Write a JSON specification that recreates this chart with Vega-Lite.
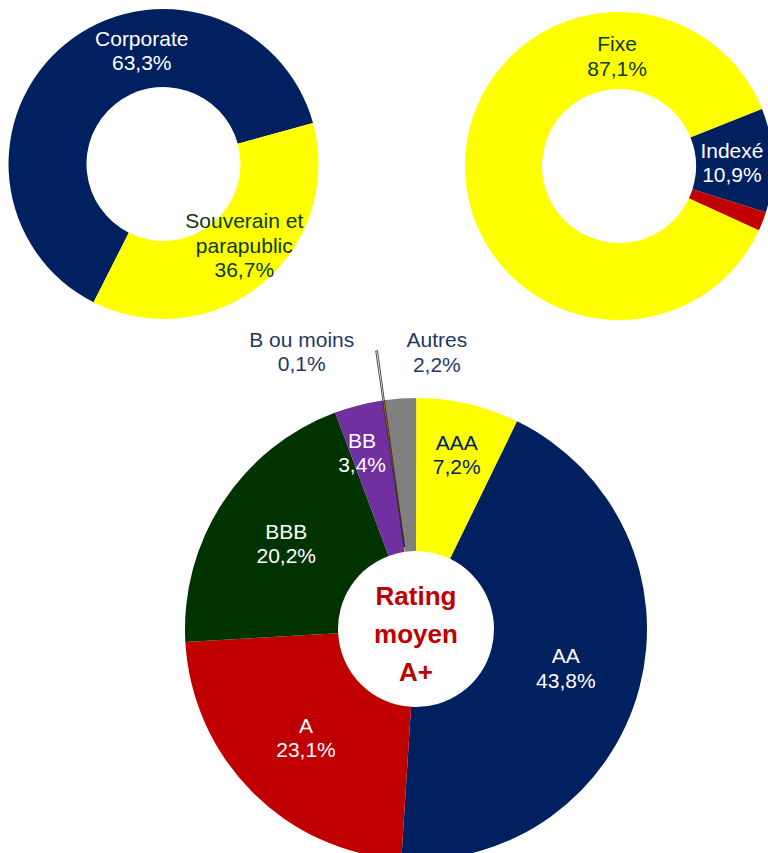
{
  "$schema": "https://vega.github.io/schema/vega-lite/v6.json",
  "width": 768,
  "height": 853,
  "autosize": {"type": "none"},
  "padding": 0,
  "background": "white",
  "config": {
    "view": {"stroke": null},
    "text": {"font": "Liberation Sans", "fontSize": 21, "lineBreak": "\n", "lineHeight": 24.5}
  },
  "datasets": {
    "parts": [
      {"chart": "secteur", "cat": "Corporate", "pct": 63.3, "label": "Corporate\n63,3%"},
      {"chart": "secteur", "cat": "Souverain et parapublic", "pct": 36.7, "label": "Souverain et\nparapublic\n36,7%"},
      {"chart": "taux", "cat": "Fixe", "pct": 87.1, "label": "Fixe\n87,1%"},
      {"chart": "taux", "cat": "Indexé", "pct": 10.9, "label": "Indexé\n10,9%"},
      {"chart": "taux", "cat": "Variable", "pct": 2.0, "label": ""},
      {"chart": "rating", "cat": "AAA", "pct": 7.2, "label": "AAA\n7,2%"},
      {"chart": "rating", "cat": "AA", "pct": 43.8, "label": "AA\n43,8%"},
      {"chart": "rating", "cat": "A", "pct": 23.1, "label": "A\n23,1%"},
      {"chart": "rating", "cat": "BBB", "pct": 20.2, "label": "BBB\n20,2%"},
      {"chart": "rating", "cat": "BB", "pct": 3.4, "label": "BB\n3,4%"},
      {"chart": "rating", "cat": "B ou moins", "pct": 0.1, "label": "B ou moins\n0,1%"},
      {"chart": "rating", "cat": "Autres", "pct": 2.2, "label": "Autres\n2,2%"}
    ]
  },
  "resolve": {"scale": {"x": "independent", "y": "independent", "theta": "independent", "color": "independent"}},
  "layer": [
    {
      "data": {"name": "parts"},
      "transform": [{"filter": "datum.chart === 'secteur'"}],
      "encoding": {
        "x": {"field": "chart", "type": "nominal", "scale": {"type": "point", "range": [163.5, 163.5]}, "axis": null},
        "y": {"field": "chart", "type": "nominal", "scale": {"type": "point", "range": [164, 164]}, "axis": null},
        "theta": {"field": "pct", "type": "quantitative", "stack": true, "scale": {"domain": [0, 100], "range": [3.6093, 9.8925]}},
        "order": {"field": "cat", "type": "nominal", "sort": "ascending"}
      },
      "layer": [
        {
          "mark": {"type": "arc", "outerRadius": 155, "innerRadius": 77, "clip": true},
          "encoding": {"color": {"field": "cat", "type": "nominal", "scale": {"domain": ["Corporate", "Souverain et parapublic"], "range": ["#002060", "#FFFF00"]}, "legend": null}}
        },
        {
          "mark": {"type": "text", "radius": 115, "clip": true, "color": "#0B3A0B", "dx": 8, "dy": -31},
          "encoding": {
            "detail": {"field": "cat", "type": "nominal"},
            "text": {"condition": {"test": "datum.cat === 'Souverain et parapublic'", "field": "label", "type": "nominal"}, "value": ""}
          }
        },
        {
          "mark": {"type": "text", "radius": 115, "clip": true, "color": "white", "dx": 51, "dy": -35},
          "encoding": {
            "detail": {"field": "cat", "type": "nominal"},
            "text": {"condition": {"test": "datum.cat === 'Corporate'", "field": "label", "type": "nominal"}, "value": ""}
          }
        }
      ]
    },
    {
      "data": {"name": "parts"},
      "transform": [{"filter": "datum.chart === 'taux'"}],
      "encoding": {
        "x": {"field": "chart", "type": "nominal", "scale": {"type": "point", "range": [619, 619]}, "axis": null},
        "y": {"field": "chart", "type": "nominal", "scale": {"type": "point", "range": [166, 166]}, "axis": null},
        "theta": {"field": "pct", "type": "quantitative", "stack": true, "scale": {"domain": [0, 100], "range": [2.0019, 8.2851]}},
        "order": {"field": "cat", "type": "nominal", "sort": "ascending"}
      },
      "layer": [
        {
          "mark": {"type": "arc", "outerRadius": 154, "innerRadius": 77, "clip": true},
          "encoding": {"color": {"field": "cat", "type": "nominal", "scale": {"domain": ["Fixe", "Indexé", "Variable"], "range": ["#FFFF00", "#002060", "#C00000"]}, "legend": null}}
        },
        {
          "mark": {"type": "text", "radius": 118, "clip": true, "color": "white", "dx": -5, "dy": -10},
          "encoding": {
            "detail": {"field": "cat", "type": "nominal"},
            "text": {"condition": {"test": "datum.cat === 'Indexé'", "field": "label", "type": "nominal"}, "value": ""}
          }
        },
        {
          "mark": {"type": "text", "radius": 118, "clip": true, "color": "#0B3A0B", "dx": 116, "dy": -117.5},
          "encoding": {
            "detail": {"field": "cat", "type": "nominal"},
            "text": {"condition": {"test": "datum.cat === 'Fixe'", "field": "label", "type": "nominal"}, "value": ""}
          }
        }
      ]
    },
    {
      "encoding": {
        "x": {"field": "chart", "type": "nominal", "scale": {"type": "point", "range": [416, 416]}, "axis": null},
        "y": {"field": "chart", "type": "nominal", "scale": {"type": "point", "range": [629, 629]}, "axis": null}
      },
      "layer": [
        {
          "data": {"name": "parts"},
          "transform": [{"filter": "datum.chart === 'rating'"}],
          "encoding": {
            "theta": {"field": "pct", "type": "quantitative", "stack": true, "scale": {"domain": [0, 100], "range": [4.65652, 10.93971]}},
            "order": {"field": "cat", "type": "nominal", "sort": "descending"}
          },
          "layer": [
            {
              "mark": {"type": "arc", "outerRadius": 231, "innerRadius": 78, "clip": true},
              "encoding": {"color": {"field": "cat", "type": "nominal", "scale": {"domain": ["AAA", "AA", "A", "BBB", "BB", "B ou moins", "Autres"], "range": ["#FFFF00", "#002060", "#C00000", "#003300", "#7030A0", "#FF9900", "#808080"]}, "legend": null}}
            },
            {
              "mark": {"type": "arc", "outerRadius": 281, "innerRadius": 83, "fill": "#000000", "fillOpacity": 0, "stroke": "#000000", "strokeWidth": 0.7, "clip": true},
              "encoding": {
                "detail": {"field": "cat", "type": "nominal"},
                "opacity": {"condition": {"test": "datum.cat === 'B ou moins'", "value": 1}, "value": 0}
              }
            },
            {
              "mark": {"type": "text", "radius": 155, "clip": true, "color": "white", "dy": -11.5},
              "encoding": {
                "detail": {"field": "cat", "type": "nominal"},
                "text": {"condition": {"test": "indexof(['AA','A','BBB'], datum.cat) >= 0", "field": "label", "type": "nominal"}, "value": ""}
              }
            },
            {
              "mark": {"type": "text", "radius": 181, "clip": true, "color": "#002060", "dy": -9},
              "encoding": {
                "detail": {"field": "cat", "type": "nominal"},
                "text": {"condition": {"test": "datum.cat === 'AAA'", "field": "label", "type": "nominal"}, "value": ""}
              }
            },
            {
              "mark": {"type": "text", "radius": 181, "clip": true, "color": "white", "dx": -9, "dy": -12},
              "encoding": {
                "detail": {"field": "cat", "type": "nominal"},
                "text": {"condition": {"test": "datum.cat === 'BB'", "field": "label", "type": "nominal"}, "value": ""}
              }
            },
            {
              "mark": {"type": "text", "radius": 280, "clip": true, "color": "#1F3864", "dx": -75, "dy": -11},
              "encoding": {
                "detail": {"field": "cat", "type": "nominal"},
                "text": {"condition": {"test": "datum.cat === 'B ou moins'", "field": "label", "type": "nominal"}, "value": ""}
              }
            },
            {
              "mark": {"type": "text", "radius": 280, "clip": true, "color": "#1F3864", "dx": 40, "dy": -8.5},
              "encoding": {
                "detail": {"field": "cat", "type": "nominal"},
                "text": {"condition": {"test": "datum.cat === 'Autres'", "field": "label", "type": "nominal"}, "value": ""}
              }
            }
          ]
        },
        {
          "data": {"values": [{"chart": "rating", "txt": "Rating\nmoyen\nA+"}]},
          "mark": {"type": "text", "font": "Liberation Sans", "fontSize": 26, "fontWeight": "bold", "lineHeight": 38.3, "color": "#C00000", "dy": -32.3, "clip": true},
          "encoding": {"text": {"field": "txt", "type": "nominal"}}
        }
      ]
    }
  ]
}
